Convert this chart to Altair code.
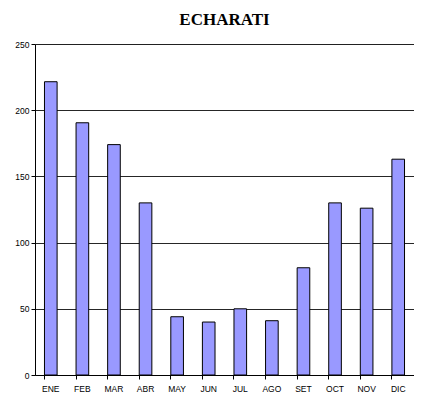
import altair as alt
import pandas as pd

months = ["ENE", "FEB", "MAR", "ABR", "MAY", "JUN", "JUL", "AGO", "SET", "OCT", "NOV", "DIC"]
values = [221.5, 190.5, 174, 130, 44, 40, 50, 41, 81, 130, 126, 163]
y_ticks = [0, 50, 100, 150, 200, 250]

df = pd.DataFrame({"mes": months, "valor": values})

bars = alt.Chart(df).mark_bar(color="#9999FF", stroke="#000000", strokeWidth=1).encode(
    x=alt.X("mes:N", sort=months, title=None,
            scale=alt.Scale(paddingInner=0.6, paddingOuter=0.3),
            axis=alt.Axis(labelAngle=0, bandPosition=0, labelFont="Liberation Sans",
                          labelFontSize=8.5, labelColor="#000", tickColor="#000", tickSize=4,
                          domainColor="#000", labelPadding=5, grid=False)),
    y=alt.Y("valor:Q", title=None,
            scale=alt.Scale(domain=[0, 250], nice=False),
            axis=alt.Axis(values=y_ticks, labelFont="Liberation Sans", labelFontSize=8.5,
                          labelColor="#000", tickColor="#000", tickSize=4, domainColor="#000",
                          gridColor="#000", gridOpacity=0.85, labelPadding=2)),
)

chart = bars.properties(
    width=379, height=331,
    autosize=alt.AutoSizeParams(type="none"),
    padding={"left": 27, "top": 36, "right": 0, "bottom": 17},
    title=alt.TitleParams("ECHARATI", font="Liberation Serif", fontSize=17, fontWeight="bold",
                          color="#000", offset=11, anchor="middle"),
).configure_view(strokeWidth=0).configure(background="white")

chart.save("out.html", embed_options={"renderer": "svg", "actions": False})
